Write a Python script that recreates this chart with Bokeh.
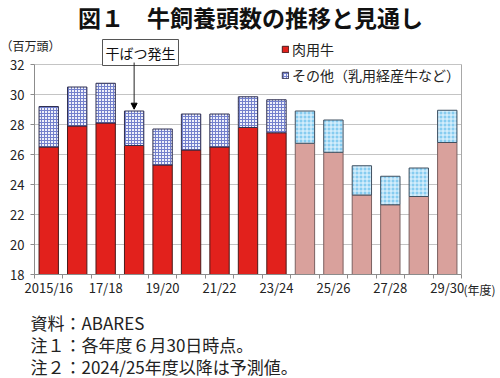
from bokeh.plotting import figure
from bokeh.models import (FixedTicker, Label, Arrow, NormalHead, Legend, LegendItem,
                          ColumnDataSource, Range1d, LinearAxis)
from bokeh.embed import file_html
from bokeh.resources import INLINE

# ---- data ----
years = ["2015/16", "16/17", "17/18", "18/19", "19/20", "20/21", "21/22", "22/23",
         "23/24", "24/25", "25/26", "26/27", "27/28", "28/29", "29/30"]
beef = [26.5, 27.9, 28.1, 26.6, 25.3, 26.3, 26.5, 27.8, 27.45, 26.75, 26.15, 23.3, 22.65, 23.2, 26.8]
other = [2.7, 2.6, 2.65, 2.3, 2.4, 2.4, 2.2, 2.05, 2.2, 2.15, 2.15, 1.95, 1.9, 1.9, 2.15]
n_actual = 9  # 2015/16 .. 2023/24 are actual, rest are forecasts
y_ticks = [18, 20, 22, 24, 26, 28, 30, 32]
shown_labels = {0: "2015/16", 2: "17/18", 4: "19/20", 6: "21/22", 8: "23/24",
                10: "25/26", 12: "27/28", 14: "29/30"}
drought_index = 3

FONT = "Noto Sans CJK JP"

# ---- layout geometry (pixels) ----
W_PX, H_PX = 500, 378
F_LEFT, F_RIGHT, F_TOP, F_BOTTOM = 34, 461, 64, 274
n = len(years)
x_lo, x_hi = -0.5, n - 0.5
y_lo, y_hi = y_ticks[0], y_ticks[-1]
ppx = (F_RIGHT - F_LEFT) / (x_hi - x_lo)
ppy = (F_BOTTOM - F_TOP) / (y_hi - y_lo)

xs = list(range(n))
tops = [b + o for b, o in zip(beef, other)]

act = ColumnDataSource(dict(x=xs[:n_actual], beef=beef[:n_actual], top=tops[:n_actual]))
fc = ColumnDataSource(dict(x=xs[n_actual:], beef=beef[n_actual:], top=tops[n_actual:]))

p = figure(width=W_PX, height=H_PX, output_backend="svg", toolbar_location=None,
           x_range=Range1d(x_lo - F_LEFT / ppx, x_hi + (W_PX - F_RIGHT) / ppx),
           y_range=Range1d(y_lo - (H_PX - F_BOTTOM) / ppy, y_hi + F_TOP / ppy),
           min_border=0, title=None)
p.outline_line_color = None
p.background_fill_color = "white"
p.border_fill_color = "white"

W = 0.68
r_beef = p.vbar(x="x", top="beef", bottom=y_lo, width=W, source=act,
                fill_color="#E2211C", line_color="#4a1a1a", line_width=1)
p.vbar(x="x", top="beef", bottom=y_lo, width=W, source=fc,
       fill_color="#D9A19C", line_color="#7a6060", line_width=1)
r_other = p.vbar(x="x", top="top", bottom="beef", width=W, source=act,
                 fill_color="#EEF0FA", hatch_pattern="+", hatch_color="#7380CC",
                 hatch_scale=3, hatch_weight=1, line_color="#303050", line_width=1)
p.vbar(x="x", top="top", bottom="beef", width=W, source=fc,
       fill_color="#86CCF0", hatch_pattern="+", hatch_color="#EAF7FF",
       hatch_scale=4, hatch_weight=1, line_color="#405060", line_width=1)

# axes (fixed inside the full-canvas frame)
p.xgrid.grid_line_color = None
p.ygrid.grid_line_color = "#C4C4C4"
p.ygrid.bounds = (y_lo, y_hi)
p.ygrid.cross_bounds = (x_lo, x_hi)

ya = p.yaxis[0]
ya.fixed_location = x_lo
ya.bounds = (y_lo, y_hi)
ya.ticker = FixedTicker(ticks=y_ticks)
ya.major_label_text_font = FONT
ya.major_label_text_font_size = "13px"
ya.major_label_text_color = "#222222"
ya.axis_line_color = "#8C8C8C"
ya.major_tick_line_color = "#8C8C8C"
ya.major_tick_out = 4
ya.major_tick_in = 0
ya.minor_tick_line_color = None
ya.major_label_standoff = 6

xa = p.xaxis[0]
xa.fixed_location = y_lo
xa.bounds = (x_lo, x_hi)
xa.ticker = FixedTicker(ticks=list(shown_labels.keys()),
                        minor_ticks=[i - 0.5 for i in range(n + 1)])
xa.major_label_overrides = {k: v for k, v in shown_labels.items()}
xa.major_tick_line_color = None
xa.minor_tick_line_color = "#8C8C8C"
xa.minor_tick_out = 4
xa.minor_tick_in = 0
xa.axis_line_color = "#8C8C8C"
xa.major_label_text_font = FONT
xa.major_label_text_font_size = "13px"
xa.major_label_text_color = "#222222"
xa.major_label_standoff = -3

# right border of plot area
rb = LinearAxis(fixed_location=x_hi, bounds=(y_lo, y_hi), ticker=FixedTicker(ticks=[]),
                axis_line_color="#A8A8A8", major_tick_line_color=None,
                minor_tick_line_color=None, major_label_text_font_size="0px")
p.add_layout(rb, "right")

# legend
legend = Legend(items=[LegendItem(label="肉用牛", renderers=[r_beef]),
                       LegendItem(label="その他（乳用経産牛など）", renderers=[r_other])],
                location=(281, H_PX - 85), orientation="vertical",
                glyph_width=8, glyph_height=8, label_height=16, spacing=6,
                label_standoff=3, padding=0, margin=0,
                border_line_color=None, background_fill_alpha=0,
                label_text_font=FONT, label_text_font_size="14px",
                label_text_color="#222222")
p.add_layout(legend, "center")

# texts
def sy(canvas_y):
    return H_PX - canvas_y

p.add_layout(Label(x=250, y=sy(16), x_units="screen", y_units="screen",
                   text="図１　牛飼養頭数の推移と見通し", text_font=FONT,
                   text_font_size="23px", text_font_style="bold",
                   text_align="center", text_baseline="middle", text_color="#111111"))
p.add_layout(Label(x=0, y=sy(45), x_units="screen", y_units="screen",
                   text="（百万頭）", text_font=FONT, text_font_size="12px",
                   text_align="left", text_baseline="middle", text_color="#222222"))
p.add_layout(Label(x=140, y=sy(52), x_units="screen", y_units="screen",
                   text="干ばつ発生", text_font=FONT, text_font_size="14px",
                   text_align="center", text_baseline="middle", text_color="#111111",
                   border_line_color="#555555", background_fill_color="white",
                   padding=3))
p.add_layout(Arrow(end=NormalHead(size=6, fill_color="black", line_color="black"),
                   x_start=drought_index, y_start=y_hi + 0.13,
                   x_end=drought_index, y_end=tops[drought_index] + 0.12,
                   line_color="#222222", line_width=1))
p.add_layout(Label(x=463, y=sy(289), x_units="screen", y_units="screen",
                   text="(年度)", text_font=FONT, text_font_size="12px",
                   text_align="left", text_baseline="middle", text_color="#222222"))

notes = ["資料：ABARES", "注１：各年度６月30日時点。", "注２：2024/25年度以降は予測値。"]
for i, t in enumerate(notes):
    p.add_layout(Label(x=30, y=sy(322 + 22 * i), x_units="screen", y_units="screen",
                       text=t, text_font=FONT, text_font_size="17px",
                       text_align="left", text_baseline="middle", text_color="#222222"))

open("out.html", "w").write(file_html(p, INLINE))
